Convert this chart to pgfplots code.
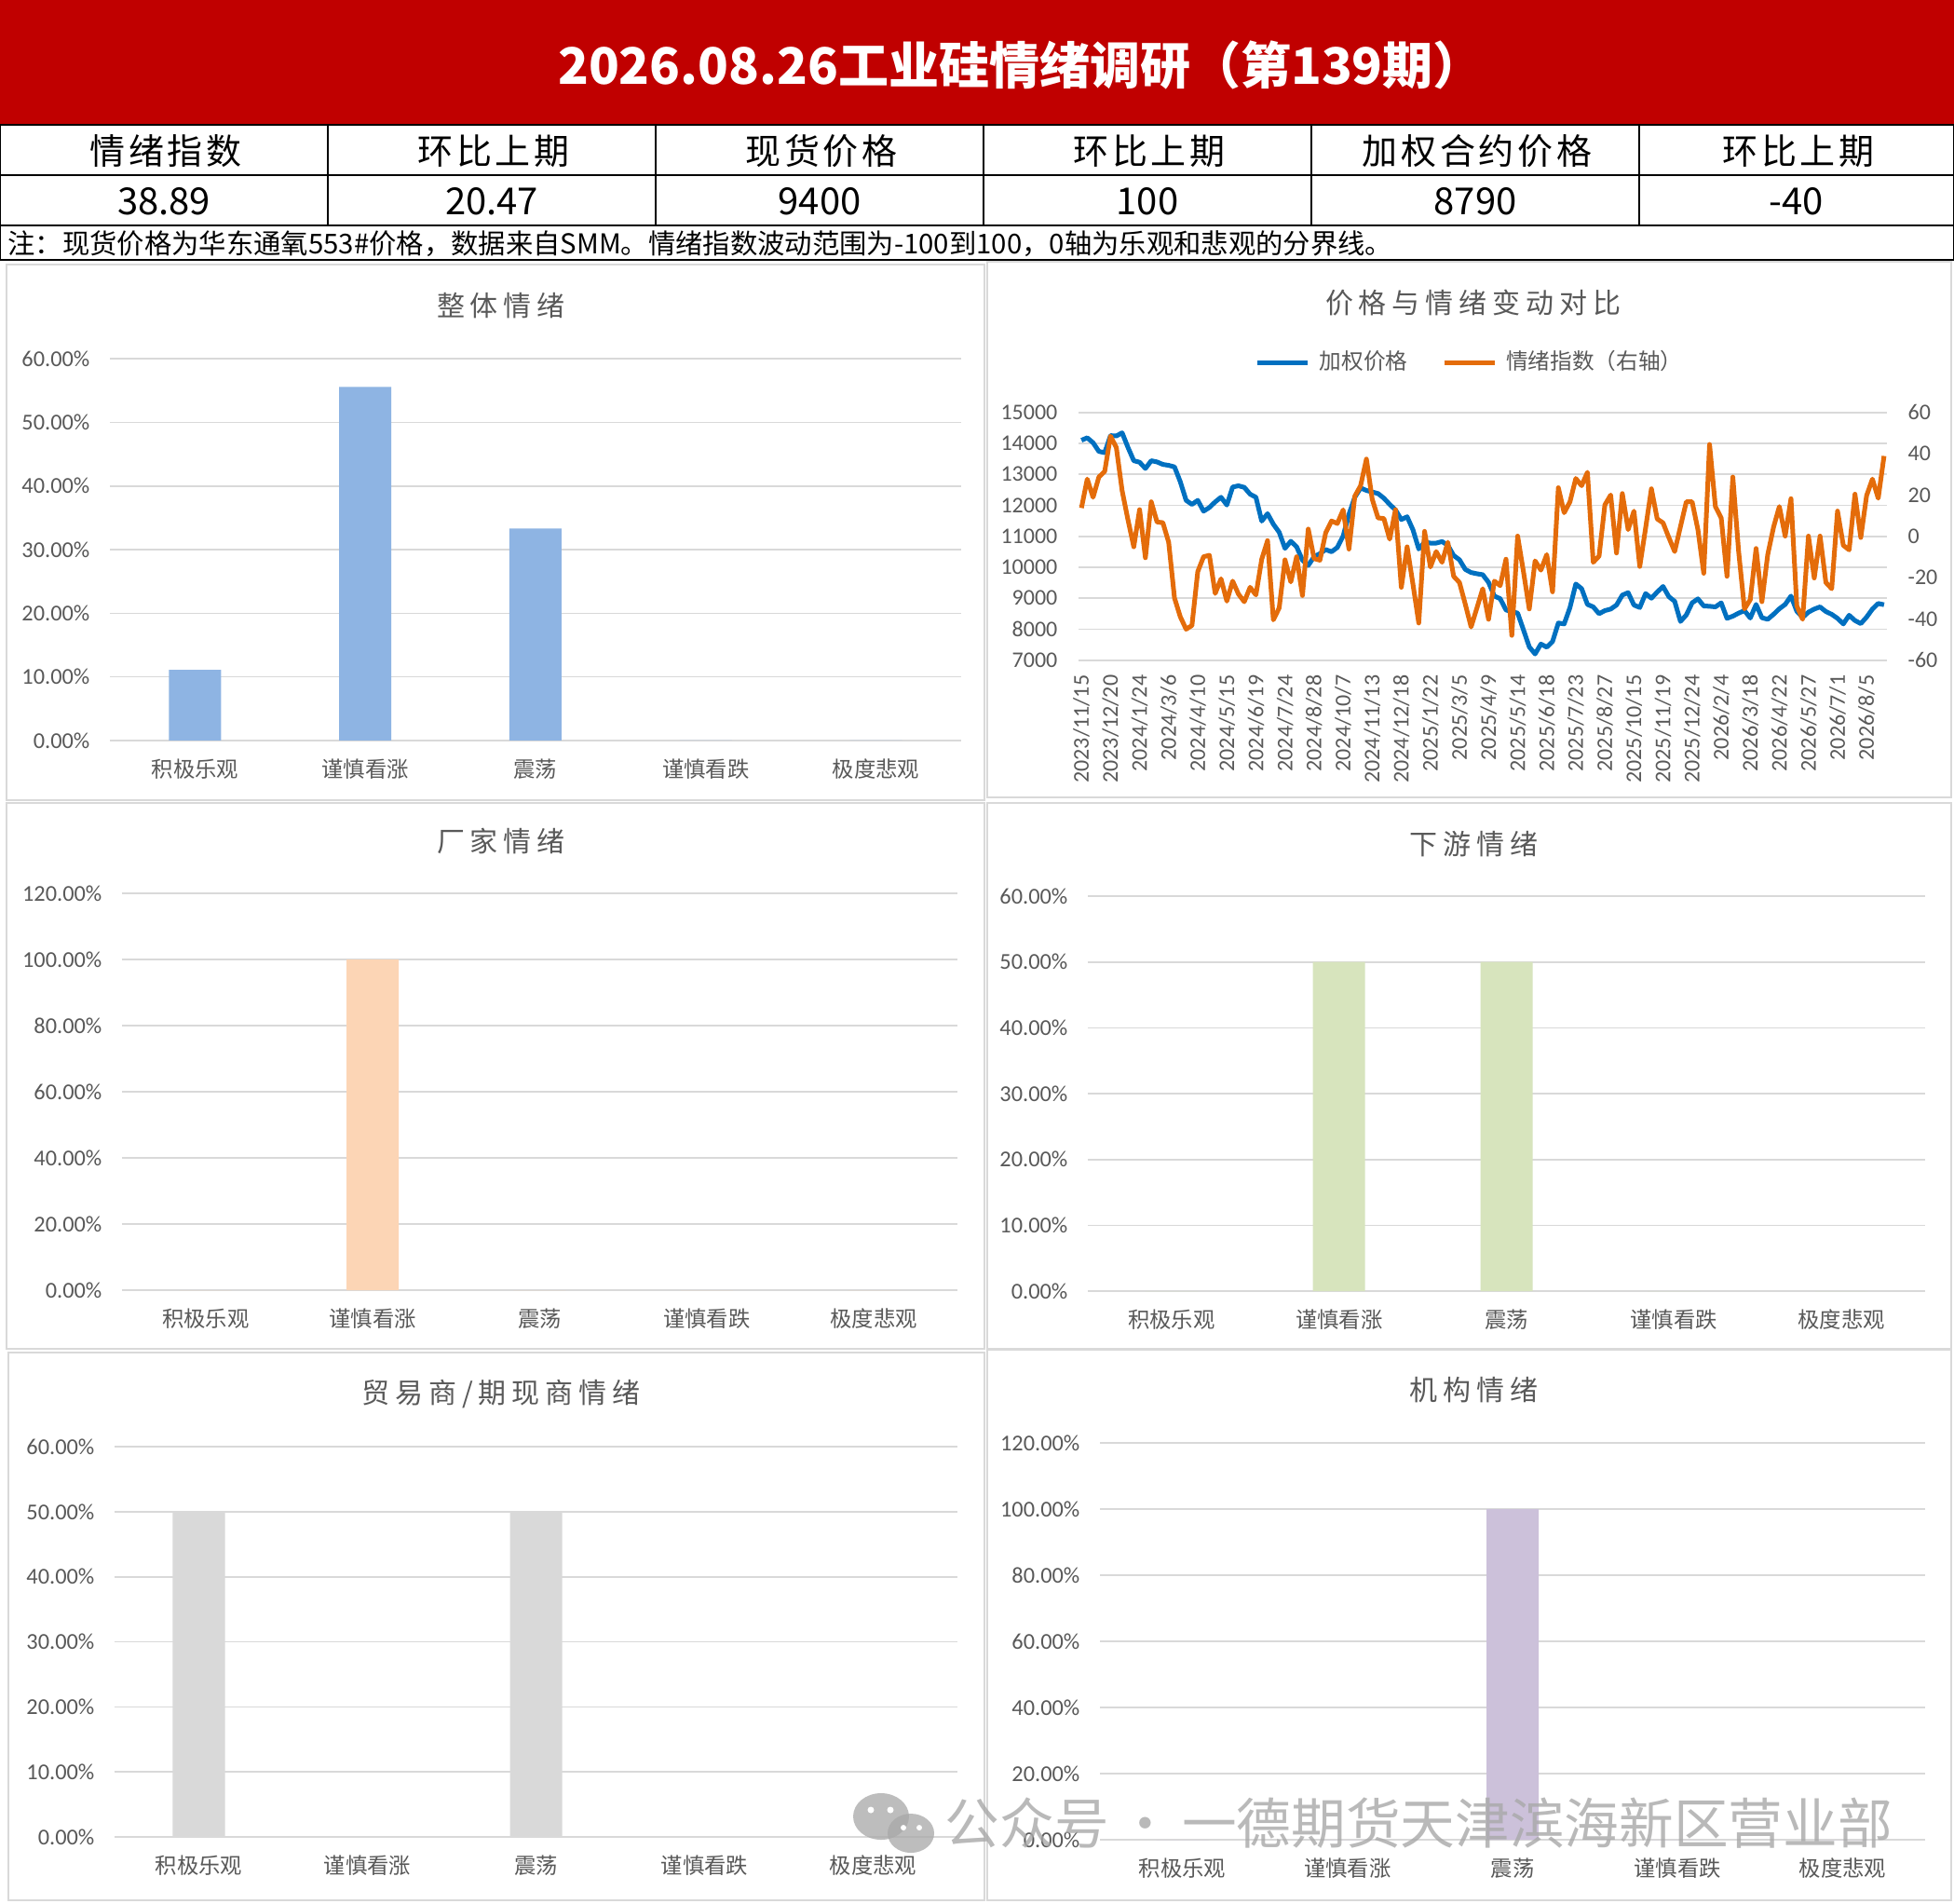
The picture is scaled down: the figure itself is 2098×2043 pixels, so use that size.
\documentclass[border=0pt]{standalone}
\usepackage{fontspec}
\usepackage{pgfplots}
\usepackage{pgfplotstable}
\pgfplotsset{compat=1.18}
\setmainfont{Carlito}
\newfontfamily\cjk{Noto Sans CJK SC}
\newfontfamily\cjksp{Noto Sans CJK SC}[LetterSpace=20]
\newfontfamily\cjkhd{Noto Sans CJK SC}[LetterSpace=10]
\definecolor{hdrred}{HTML}{C00000}
\definecolor{txtgray}{HTML}{595959}
\definecolor{gridgray}{HTML}{D9D9D9}
\definecolor{pblue}{HTML}{0070C0}
\definecolor{porange}{HTML}{E46C0A}
\definecolor{bblue}{HTML}{8EB4E3}
\definecolor{bpeach}{HTML}{FCD5B5}
\definecolor{bgreen}{HTML}{D7E4BD}
\definecolor{bgray}{HTML}{D9D9D9}
\definecolor{bpurple}{HTML}{CCC1DA}
\definecolor{wmgray}{HTML}{A8A8A8}

\pgfplotstableread{
x y
0 14100
1 14180
2 14020
3 13740
4 13700
5 14250
6 14240
7 14340
8 13870
9 13440
10 13390
11 13190
12 13440
13 13400
14 13320
15 13290
16 13240
17 12760
18 12160
19 12030
20 12160
21 11810
22 11930
23 12110
24 12260
25 12010
26 12590
27 12630
28 12580
29 12360
30 12260
31 11490
32 11730
33 11390
34 11130
35 10610
36 10840
37 10660
38 10230
39 10060
40 10340
41 10440
42 10570
43 10500
44 10640
45 11010
46 11710
47 12260
48 12560
49 12480
50 12430
51 12380
52 12230
53 12030
54 11850
55 11540
56 11630
57 11210
58 10590
59 10810
60 10780
61 10780
62 10830
63 10710
64 10380
65 10240
66 9930
67 9830
68 9790
69 9760
70 9510
71 9070
72 8985
73 8620
74 8570
75 8520
76 7980
77 7430
78 7200
79 7520
80 7420
81 7600
82 8200
83 8170
84 8700
85 9460
86 9310
87 8800
88 8720
89 8500
90 8600
91 8650
92 8780
93 9100
94 9180
95 8780
96 8700
97 9150
98 9000
99 9200
100 9380
101 9050
102 8900
103 8250
104 8460
105 8850
106 8980
107 8750
108 8740
109 8720
110 8850
111 8350
112 8420
113 8520
114 8600
115 8360
116 8800
117 8370
118 8320
119 8480
120 8660
121 8800
122 9070
123 8580
124 8380
125 8550
126 8650
127 8720
128 8570
129 8480
130 8350
131 8170
132 8450
133 8280
134 8180
135 8390
136 8650
137 8830
138 8790
}\pricetable

\pgfplotstableread{
x y
0 13.7
1 27.7
2 18.9
3 28.7
4 31.4
5 48.5
6 43.0
7 22.0
8 8.0
9 -5.1
10 12.9
11 -10.4
12 16.7
13 6.9
14 6.6
15 -2.9
16 -29.9
17 -39.0
18 -45.0
19 -43.2
20 -17.1
21 -9.9
22 -9.2
23 -27.7
24 -20.6
25 -31.4
26 -21.7
27 -28.0
28 -31.7
29 -24.7
30 -28.4
31 -11.1
32 -2.1
33 -40.5
34 -34.7
35 -11.4
36 -22.1
37 -9.9
38 -28.7
39 3.5
40 -10.8
41 -11.6
42 1.7
43 7.4
44 6.2
45 12.8
46 -6.2
47 19.4
48 24.5
49 37.4
50 17.9
51 8.9
52 8.6
53 -1.4
54 12.9
55 -24.7
56 -5.1
57 -23.2
58 -42.0
59 2.4
60 -14.9
61 -7.4
62 -12.6
63 -2.9
64 -19.4
65 -22.4
66 -32.9
67 -43.9
68 -34.7
69 -25.4
70 -40.2
71 -21.7
72 -23.9
73 -11.1
74 -48.0
75 0.1
76 -17.1
77 -35.2
78 -11.9
79 -16.4
80 -8.9
81 -26.9
82 23.5
83 11.4
84 16.7
85 28.0
86 24.5
87 31.0
88 -12.6
89 -9.6
90 15.2
91 20.0
92 -8.1
93 20.7
94 3.2
95 12.2
96 -14.6
97 3.9
98 23.0
99 8.4
100 6.5
101 -0.6
102 -7.4
103 4.7
104 16.7
105 16.7
106 3.2
107 -17.9
108 44.5
109 14.4
110 8.9
111 -19.4
112 28.7
113 -7.4
114 -35.2
115 -30.7
116 -5.9
117 -31.7
118 -8.9
119 4.4
120 14.4
121 0.1
122 18.2
123 -33.7
124 -40.2
125 0.1
126 -20.2
127 0.1
128 -22.4
129 -25.4
130 12.2
131 -4.4
132 -6.6
133 20.4
134 -0.6
135 19.7
136 27.7
137 18.42
138 38.89
}\moodtable

\pgfplotsset{
  /pgf/number format/assume math mode=true,
  /pgf/number format/1000 sep={},
  barpanel/.style={
    scale only axis, anchor=north west, ybar, bar width=16.8pt,
    xmin=-0.5, xmax=4.5, ymin=0,
    xtick={0,1,2,3,4},
    xticklabels={积极乐观,谨慎看涨,震荡,谨慎看跌,极度悲观},
    axis line style={draw=none}, major tick length=0pt,
    ymajorgrids, grid style={gridgray, line width=0.5pt},
    scaled y ticks=false,
    yticklabel={\pgfmathprintnumber[fixed,fixed zerofill,precision=2]{\tick}\%},
    y tick label style={font=\fontsize{7.3pt}{8pt}\selectfont, text=txtgray, anchor=east, inner sep=0pt, xshift=-6.3pt},
    x tick label style={font=\cjk\fontsize{7pt}{8pt}\selectfont, text=txtgray, anchor=center, inner sep=0pt, yshift=-9.3pt},
  },
}

\begin{document}
\begin{tikzpicture}
\begin{scope}[x=0.3pt, y=-0.3pt]
\useasboundingbox (0,0) rectangle (2098,2043);
\fill[white] (0,0) rectangle (2098,2043);
% header
\fill[hdrred] (0,0) rectangle (2098,134);
\node[text=white, font=\cjk\bfseries\fontsize{16.2pt}{18pt}\selectfont, inner sep=0pt] at (1096,70) {2026.08.26工业硅情绪调研（第139期）};
\draw[black, line width=0.6pt] (0,134) -- (2098,134) (0,188) -- (2098,188) (0,242) -- (2098,242) (0,279) -- (2098,279);
\draw[black, line width=0.6pt] (0.5,134) -- (0.5,279) (2097.5,134) -- (2097.5,279);
\foreach \xx in {352,704,1056,1408,1760} {\draw[black, line width=0.6pt] (\xx,134) -- (\xx,242);}
\begin{scope}[every node/.style={font=\cjkhd\fontsize{11.4pt}{13pt}\selectfont, inner sep=0pt}]
\node at (178,162) {情绪指数};
\node at (530,162) {环比上期};
\node at (882,162) {现货价格};
\node at (1234,162) {环比上期};
\node at (1586,162) {加权合约价格};
\node at (1931,162) {环比上期};
\end{scope}
\begin{scope}[every node/.style={font=\cjk\fontsize{12pt}{13pt}\selectfont, inner sep=0pt}]
\node at (176,216) {38.89};
\node at (528,216) {20.47};
\node at (880,216) {9400};
\node at (1232,216) {100};
\node at (1584,216) {8790};
\node at (1929,216) {-40};
\end{scope}
\node[anchor=west, font=\cjk\fontsize{8.8pt}{10pt}\selectfont, inner sep=0pt] at (8,262) {注：现货价格为华东通氧553\#价格，数据来自SMM。情绪指数波动范围为-100到100，0轴为乐观和悲观的分界线。};
% panel frames
\begin{scope}[draw=gridgray, line width=0.6pt]
\draw (7,284) rectangle (1057,859);
\draw (1060,281) rectangle (2095,856);
\draw (7,862) rectangle (1057,1448);
\draw (1060,862) rectangle (2095,1448);
\draw (9,1452) rectangle (1057,2040);
\draw (1060,1449) rectangle (2095,2040);
\end{scope}
% panel titles
\begin{scope}[every node/.style={font=\cjksp\fontsize{9pt}{10pt}\selectfont, text=txtgray, inner sep=0pt}]
\node at (538,328) {整体情绪};
\node at (538,903) {厂家情绪};
\node at (1582,906) {下游情绪};
\node at (538,1496) {贸易商/期现商情绪};
\node at (1582,1492) {机构情绪};
\node at (1582,325) {价格与情绪变动对比};
\end{scope}
\end{scope}

% Panel 1
\begin{axis}[barpanel, at={(35.4pt,-115.5pt)}, width=274.2pt, height=123pt, ymax=60, ytick={0,10,...,60}]
\addplot[fill=bblue, draw=none] coordinates {(0,11.11) (1,55.56) (2,33.33) (3,0) (4,0)};
\end{axis}
% Panel 2
\begin{axis}[barpanel, at={(39.3pt,-287.7pt)}, width=269.1pt, height=127.8pt, ymax=120, ytick={0,20,...,120}]
\addplot[fill=bpeach, draw=none] coordinates {(0,0) (1,100) (2,0) (3,0) (4,0)};
\end{axis}
% Panel 3
\begin{axis}[barpanel, at={(350.4pt,-288.6pt)}, width=269.7pt, height=127.2pt, ymax=60, ytick={0,10,...,60}]
\addplot[fill=bgreen, draw=none] coordinates {(0,0) (1,50) (2,50) (3,0) (4,0)};
\end{axis}
% Panel 4
\begin{axis}[barpanel, at={(36.9pt,-465.9pt)}, width=271.5pt, height=125.7pt, ymax=60, ytick={0,10,...,60}]
\addplot[fill=bgray, draw=none] coordinates {(0,50) (1,0) (2,50) (3,0) (4,0)};
\end{axis}
% Panel 5
\begin{axis}[barpanel, at={(354.3pt,-464.7pt)}, width=265.8pt, height=127.8pt, ymax=120, ytick={0,20,...,120}]
\addplot[fill=bpurple, draw=none] coordinates {(0,0) (1,0) (2,100) (3,0) (4,0)};
\end{axis}

% Line chart, left axis
\begin{axis}[scale only axis, anchor=north west, at={(347.4pt,-132.81pt)}, width=260.4pt, height=79.8pt,
  xmin=-0.5, xmax=138.5, ymin=7000, ymax=15000, ytick={7000,8000,...,15000},
  scaled y ticks=false,
  axis line style={draw=none}, major tick length=0pt,
  ymajorgrids, grid style={gridgray, line width=0.5pt},
  xtick={0,5,...,135},
  xticklabels={2023/11/15,2023/12/20,2024/1/24,2024/3/6,2024/4/10,2024/5/15,2024/6/19,2024/7/24,2024/8/28,2024/10/7,2024/11/13,2024/12/18,2025/1/22,2025/3/5,2025/4/9,2025/5/14,2025/6/18,2025/7/23,2025/8/27,2025/10/15,2025/11/19,2025/12/24,2026/2/4,2026/3/18,2026/4/22,2026/5/27,2026/7/1,2026/8/5},
  x tick label style={font=\fontsize{7.2pt}{8pt}\selectfont, text=txtgray, rotate=90, anchor=east, inner sep=0pt, inner xsep=4.6pt},
  y tick label style={font=\fontsize{7.2pt}{8pt}\selectfont, text=txtgray, anchor=east, inner sep=0pt, xshift=-6.6pt},
  legend style={at={(0.4866,1)}, anchor=center, yshift=16.1pt, draw=none, fill=none, legend columns=2,
    font=\cjk\fontsize{7.1pt}{8pt}\selectfont, text=txtgray,
    /tikz/every even column/.append style={column sep=9pt},
    /tikz/every odd column/.append style={column sep=1pt}},
  legend image code/.code={\draw[#1] (0pt,0pt) -- (16.2pt,0pt);},
]
\addplot[pblue, line width=1.5pt, line join=round, mark=none] table[x=x,y=y] {\pricetable};
\addlegendentry{加权价格}
\addlegendimage{porange, line width=1.5pt}
\addlegendentry{情绪指数（右轴）}
\end{axis}
% Line chart, right axis
\begin{axis}[scale only axis, anchor=north west, at={(347.4pt,-132.81pt)}, width=260.4pt, height=79.8pt,
  xmin=-0.5, xmax=138.5, ymin=-60, ymax=60, ytick={-60,-40,...,60},
  axis line style={draw=none}, major tick length=0pt, xtick=\empty,
  yticklabel pos=right,
  y tick label style={font=\fontsize{7.2pt}{8pt}\selectfont, text=txtgray, anchor=west, inner sep=0pt, xshift=6.6pt},
]
\addplot[porange, line width=1.5pt, line join=round, mark=none] table[x=x,y=y] {\moodtable};
\end{axis}

% watermark
\begin{scope}[x=0.3pt, y=-0.3pt]
\fill[wmgray, opacity=0.75] (946,1950) ellipse (30 and 25);
\fill[wmgray, opacity=0.75] (978,1968) ellipse (25 and 21);
\fill[white] (935,1943) circle (3.5) (956,1943) circle (3.5) (970,1962) circle (3) (987,1962) circle (3);
\node[anchor=west, text=wmgray, opacity=0.8, font=\cjk\fontsize{17.6pt}{19pt}\selectfont, inner sep=0pt] at (1014,1957) {公众号\kern3pt·\kern3pt一德期货天津滨海新区营业部};
\end{scope}
\end{tikzpicture}
\end{document}
